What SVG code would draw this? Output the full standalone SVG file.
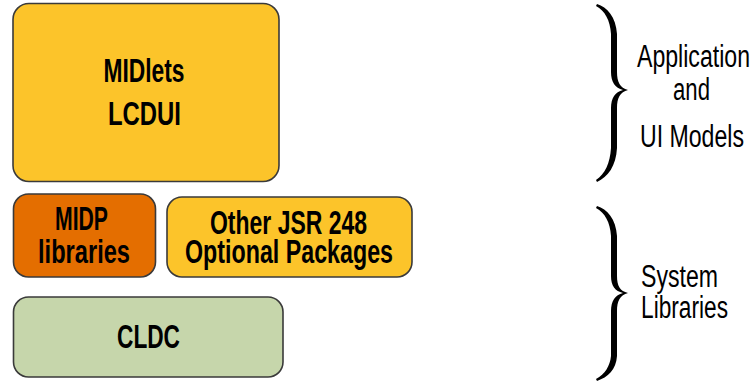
<svg xmlns="http://www.w3.org/2000/svg" width="752" height="387" viewBox="0 0 752 387">
  <style>
    .box { stroke: #3a3a3a; stroke-width: 1.6; }
    .gold { fill: #fcc42a; }
    .orange { fill: #e46e00; }
    .sage { fill: #c6d6ab; }
    .lbl { font-family: "Liberation Sans", Arial, sans-serif; font-weight: bold; font-size: 33px; fill: #000; text-anchor: middle; }
    .side { font-family: "Liberation Sans", Arial, sans-serif; font-size: 31px; fill: #000; text-anchor: middle; }
    .brace { fill: #000; }
  </style>
  <rect width="752" height="387" fill="#ffffff"/>

  <g id="midlets">
    <rect class="box gold" x="13" y="3.5" width="266" height="178" rx="16" ry="16"/>
    <text class="lbl" x="144" y="82" textLength="81" lengthAdjust="spacingAndGlyphs">MIDlets</text>
    <text class="lbl" x="144.5" y="125" textLength="73" lengthAdjust="spacingAndGlyphs">LCDUI</text>
  </g>

  <g id="midp">
    <rect class="box orange" x="13.5" y="194" width="142" height="83" rx="15" ry="15"/>
    <text class="lbl" x="81.5" y="230" font-size="32" textLength="53" lengthAdjust="spacingAndGlyphs">MIDP</text>
    <text class="lbl" x="84" y="263" font-size="32" textLength="92" lengthAdjust="spacingAndGlyphs">libraries</text>
  </g>

  <g id="jsr248">
    <rect class="box gold" x="167" y="197" width="245" height="80" rx="15" ry="15"/>
    <text class="lbl" x="288.5" y="234" font-size="32" textLength="157" lengthAdjust="spacingAndGlyphs">Other JSR 248</text>
    <text class="lbl" x="289" y="263" font-size="32" textLength="208" lengthAdjust="spacingAndGlyphs">Optional Packages</text>
  </g>

  <g id="cldc">
    <rect class="box sage" x="13.5" y="297" width="269.5" height="80" rx="15" ry="15"/>
    <text class="lbl" x="148.5" y="347.5" font-size="32" textLength="63" lengthAdjust="spacingAndGlyphs">CLDC</text>
  </g>

  <!-- curly braces grouping the layers -->
  <g id="brace-app">
    <path class="brace" d="M597,4 C607,7 616,17 617,34 L617,72 C617,82 620,88 628,90 C620,92 617,98 617,108 L617,148 C616,166 608,177 597,182 L596,180 C605,174 610,163 611,148 L611,108 C611,98 615,92 623,90 C615,88 611,82 611,72 L611,34 C610,20 605,11 596,6 Z"/>
  </g>
  <!-- side labels use a horizontal squeeze to get a narrow face -->
  <g id="label-app">
    <text class="side" transform="translate(693.5,67) scale(0.75,1)" x="0" y="0" font-size="30" textLength="150.7" lengthAdjust="spacingAndGlyphs">Application</text>
    <text class="side" transform="translate(691.5,100) scale(0.75,1)" x="0" y="0" font-size="30" textLength="49.3" lengthAdjust="spacingAndGlyphs">and</text>
    <text class="side" transform="translate(692,147) scale(0.75,1)" x="0" y="0" font-size="30" textLength="138.7" lengthAdjust="spacingAndGlyphs">UI Models</text>
  </g>

  <g id="brace-sys">
    <path class="brace" d="M597,206 C607,209 616,219 617,236 L617,276 C617,286 620,291 628,293 C620,295 617,301 617,311 L617,356 C616,370 608,377 597,381 L596,379 C605,374 610,366 611,356 L611,311 C611,301 615,295 623,293 C615,291 611,286 611,276 L611,236 C610,222 605,213 596,208 Z"/>
  </g>
  <g id="label-sys">
    <text class="side" transform="translate(679.5,287) scale(0.75,1)" x="0" y="0" font-size="32" textLength="102.7" lengthAdjust="spacingAndGlyphs">System</text>
    <text class="side" transform="translate(684.5,318) scale(0.75,1)" x="0" y="0" font-size="32" textLength="116" lengthAdjust="spacingAndGlyphs">Libraries</text>
  </g>
</svg>
